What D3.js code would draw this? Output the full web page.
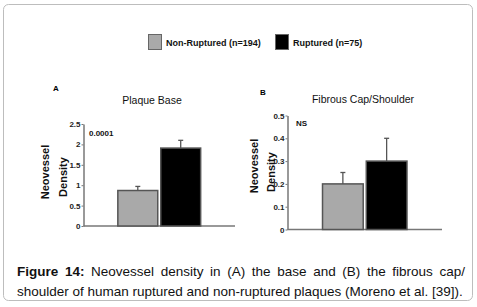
<!DOCTYPE html>
<html>
<head>
<meta charset="utf-8">
<script src="https://cdn.jsdelivr.net/npm/d3@7"></script>
<style>
body { margin:0; background:#fff; overflow:hidden; }
svg { display:block; }
</style>
</head>
<body>
<svg id="chart" width="477" height="307"></svg>
<script>
var groups = ["Non-Ruptured (n=194)", "Ruptured (n=75)"];
var groupColors = ["#a9a9a9", "#000000"];

var baseMeans = [0.87, 1.91];
var baseErr = [0.10, 0.19];
var baseTicks = [0, 0.5, 1, 1.5, 2, 2.5];

var capMeans = [0.20, 0.30];
var capErr = [0.05, 0.10];
var capTicks = [0, 0.1, 0.2, 0.3, 0.4, 0.5];

var captionBold = "Figure 14:";
var captionLine1 = "Neovessel density in (A) the base and (B) the fibrous cap/";
var captionLine2 = "shoulder of human ruptured and non-ruptured plaques (Moreno et al. [39]).";

var svg = d3.select("#chart");
var sans = "Liberation Sans, Arial, sans-serif";
var narrow = "Liberation Sans Narrow, Arial Narrow, Liberation Sans, sans-serif";

// frame
svg.append("rect")
    .attr("x", 3.5).attr("y", 4.5)
    .attr("width", 469).attr("height", 296)
    .attr("rx", 5)
    .attr("fill", "none")
    .attr("stroke", "#bdbdbd");

// legend
var legend = svg.append("g").attr("transform", "translate(148,34)");
var legX = [0, 127];
groups.forEach(function(g, i){
    var item = legend.append("g").attr("transform", "translate(" + legX[i] + ",0)");
    item.append("rect")
        .attr("x", 0.5).attr("y", 0.5)
        .attr("width", 13).attr("height", 15)
        .attr("fill", groupColors[i])
        .attr("stroke", "#666");
    item.append("text")
        .attr("x", 18).attr("y", 11.5)
        .attr("font-family", sans)
        .attr("font-size", 9).attr("font-weight", "bold")
        .attr("fill", "#111")
        .text(g);
});

function panel(opts){
    var g = svg.append("g");
    var ys = d3.scaleLinear().domain([0, opts.ticks[opts.ticks.length-1]])
        .range([opts.y0, opts.y1]);
    var xs = d3.scaleBand().domain(groups)
        .range([opts.x0, opts.x1])
        .paddingInner(0.07).paddingOuter(0.8);

    var ax = g.append("g")
        .attr("transform", "translate(" + opts.x0 + ",0)")
        .call(d3.axisLeft(ys).tickValues(opts.ticks).tickSize(2).tickSizeOuter(0)
            .tickFormat(function(d){ return d; }));
    ax.select(".domain").attr("stroke", "#777").attr("stroke-width", 1.5);
    ax.selectAll(".tick line").attr("stroke", "#777");
    ax.selectAll(".tick text")
        .attr("x", -3)
        .attr("font-family", narrow)
        .attr("font-size", 8).attr("font-weight", "bold")
        .attr("fill", "#222");

    // baseline
    g.append("line")
        .attr("x1", opts.x0).attr("x2", opts.x1)
        .attr("y1", ys(0)).attr("y2", ys(0))
        .attr("stroke", "#777").attr("stroke-width", 1.5);

    var data = groups.map(function(k, i){
        return {key:k, mean:opts.means[i], err:opts.err[i], color:groupColors[i]};
    });

    // error bars (upper only)
    var eb = g.selectAll(".err").data(data).enter().append("g").attr("class", "err");
    eb.append("line")
        .attr("x1", function(d){ return xs(d.key) + xs.bandwidth()/2; })
        .attr("x2", function(d){ return xs(d.key) + xs.bandwidth()/2; })
        .attr("y1", function(d){ return ys(d.mean); })
        .attr("y2", function(d){ return ys(d.mean + d.err); })
        .attr("stroke", "#555").attr("stroke-width", 1.3);
    eb.append("line")
        .attr("x1", function(d){ return xs(d.key) + xs.bandwidth()/2 - 2.5; })
        .attr("x2", function(d){ return xs(d.key) + xs.bandwidth()/2 + 2.5; })
        .attr("y1", function(d){ return ys(d.mean + d.err); })
        .attr("y2", function(d){ return ys(d.mean + d.err); })
        .attr("stroke", "#555").attr("stroke-width", 1.3);

    g.selectAll(".bar").data(data).enter().append("rect")
        .attr("class", "bar")
        .attr("x", function(d){ return xs(d.key); })
        .attr("y", function(d){ return ys(d.mean); })
        .attr("width", xs.bandwidth())
        .attr("height", function(d){ return ys(0) - ys(d.mean); })
        .attr("fill", function(d){ return d.color; })
        .attr("stroke", "#555").attr("stroke-width", 1.5);

    // labels
    g.append("text")
        .attr("x", opts.letter[0]).attr("y", opts.letter[1])
        .attr("font-family", sans)
        .attr("font-size", 8).attr("font-weight", "bold")
        .text(opts.letterText);
    g.append("text")
        .attr("x", opts.title[0]).attr("y", opts.title[1])
        .attr("text-anchor", "middle")
        .attr("font-family", sans)
        .attr("font-size", 10.5).attr("fill", "#111")
        .text(opts.titleText);
    g.append("text")
        .attr("x", opts.sig[0]).attr("y", opts.sig[1])
        .attr("font-family", narrow)
        .attr("font-size", 8).attr("font-weight", "bold").attr("fill", "#111")
        .text(opts.sigText);
    g.append("text")
        .attr("transform", "translate(" + opts.yl1[0] + "," + opts.yl1[1] + ") rotate(-90)")
        .attr("text-anchor", "middle")
        .attr("font-family", sans)
        .attr("font-size", 11).attr("font-weight", "bold").attr("fill", "#111")
        .text("Neovessel");
    g.append("text")
        .attr("transform", "translate(" + opts.yl2[0] + "," + opts.yl2[1] + ") rotate(-90)")
        .attr("text-anchor", "middle")
        .attr("font-family", sans)
        .attr("font-size", 11).attr("font-weight", "bold").attr("fill", "#111")
        .text("Density");
}

panel({
    x0:83.5, x1:235, y0:226, y1:124,
    ticks:baseTicks, means:baseMeans, err:baseErr,
    letter:[53, 91], letterText:"A",
    title:[152, 104], titleText:"Plaque Base",
    sig:[89, 136], sigText:"0.0001",
    yl1:[49, 172], yl2:[67, 177]
});

panel({
    x0:287.5, x1:442, y0:229.5, y1:115.5,
    ticks:capTicks, means:capMeans, err:capErr,
    letter:[260, 95], letterText:"B",
    title:[363, 103], titleText:"Fibrous Cap/Shoulder",
    sig:[296, 126], sigText:"NS",
    yl1:[258, 166], yl2:[275, 172]
});

// caption: first line justified word by word
var capLeft = 17, capRight = 465;
var words = [captionBold.split(" ").map(function(w){ return {t:w, b:true}; }),
             captionLine1.split(" ").map(function(w){ return {t:w, b:false}; })];
words = words[0].concat(words[1]);
var cap = svg.append("g").attr("font-family", sans).attr("font-size", 13.5).attr("fill", "#111");
var nodes = words.map(function(w){
    return cap.append("text").attr("y", 276)
        .attr("font-weight", w.b ? "bold" : "normal")
        .text(w.t);
});
var total = d3.sum(nodes, function(n){ return n.node().getComputedTextLength(); });
var gap = (capRight - capLeft - total) / (nodes.length - 1);
var cx = capLeft;
nodes.forEach(function(n){
    n.attr("x", cx);
    cx += n.node().getComputedTextLength() + gap;
});
cap.append("text").attr("x", capLeft).attr("y", 296).text(captionLine2);
</script>
</body>
</html>
